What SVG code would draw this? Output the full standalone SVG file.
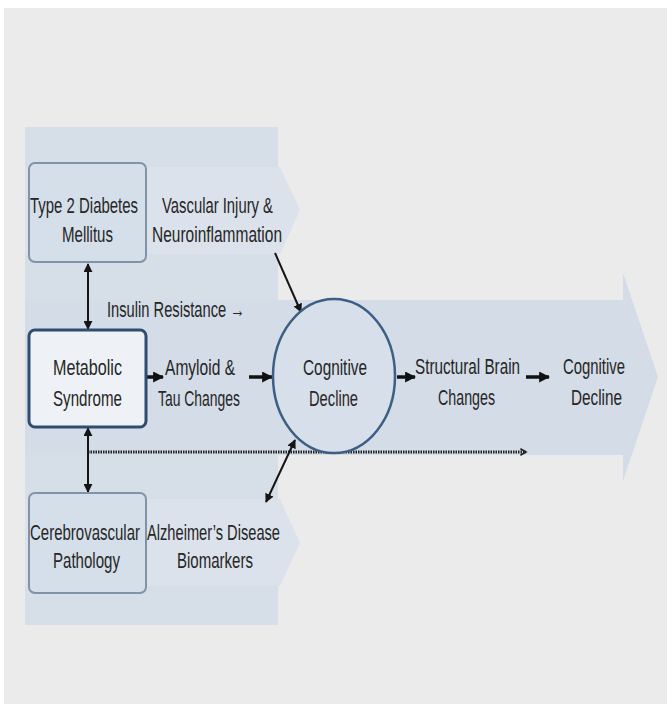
<svg xmlns="http://www.w3.org/2000/svg" width="667" height="704" viewBox="0 0 667 704">
<defs>
<style>
.t{font-family:"Liberation Sans",Arial,sans-serif;font-size:15px;fill:#262626;text-anchor:middle;}
.tl{text-anchor:start;}
.box{fill:#d5dfea;stroke:#8193a9;stroke-width:2;}
.main{fill:#eef2f7;stroke:#2f4d70;stroke-width:3;}
.thin{stroke:#151515;stroke-width:2;fill:none;}
.thick{stroke:#111;stroke-width:3.5;fill:none;}
.dot{stroke:#222;stroke-width:3;stroke-dasharray:1.5 1;fill:none;}
</style>
<marker id="ah" viewBox="0 0 10 10" refX="9" refY="5" markerWidth="9" markerHeight="9" markerUnits="userSpaceOnUse" orient="auto-start-reverse">
<path d="M0,0 L10,5 L0,10 Z" fill="#151515"/>
</marker>
<marker id="ahb" viewBox="0 0 10 10" refX="9" refY="5" markerWidth="11" markerHeight="11" markerUnits="userSpaceOnUse" orient="auto">
<path d="M0,0 L10,5 L0,10 Z" fill="#111"/>
</marker>
<marker id="aho" viewBox="0 0 10 10" refX="8" refY="5" markerWidth="8" markerHeight="8" markerUnits="userSpaceOnUse" orient="auto">
<path d="M1,1 L8,5 L1,9" fill="none" stroke="#222" stroke-width="2"/>
</marker>
</defs>
<rect x="0" y="0" width="667" height="704" fill="#ffffff"/>
<rect x="4" y="8" width="663" height="696" fill="#ebebeb"/>
<g id="background">
<rect x="25" y="127" width="253" height="498" fill="#d6dee8"/>
<polygon points="25,167 280,167 300,210 280,254 25,254" fill="#dbe2eb"/>
<polygon points="25,499 280,499 300,543 280,586 25,586" fill="#dbe2eb"/>
<polygon points="25,300 623,300 623,273 658,377 623,481 623,455 25,455" fill="#d3dce7"/>
</g>
<g id="connectors">
<line class="dot" x1="88" y1="452" x2="526" y2="452" marker-end="url(#aho)"/>
<line class="thin" x1="88" y1="264" x2="88" y2="329" marker-start="url(#ah)" marker-end="url(#ah)"/>
<line class="thin" x1="88" y1="428" x2="88" y2="492" marker-start="url(#ah)" marker-end="url(#ah)"/>
<line class="thin" x1="275" y1="253" x2="301" y2="312" marker-end="url(#ah)"/>
<line class="thin" x1="266" y1="502" x2="295" y2="440" marker-start="url(#ah)" marker-end="url(#ah)"/>
<line class="thick" x1="146" y1="377" x2="163" y2="377" marker-end="url(#ahb)"/>
<line class="thick" x1="249" y1="377" x2="272" y2="377" marker-end="url(#ahb)"/>
<line class="thick" x1="397" y1="377" x2="415" y2="377" marker-end="url(#ahb)"/>
<line class="thick" x1="526" y1="377" x2="549" y2="377" marker-end="url(#ahb)"/>
</g>
<g id="type2">
<rect class="box" x="29" y="163" width="117" height="99" rx="6"/>
<text class="t" transform="translate(84,213) scale(1,1.45)" textLength="108" lengthAdjust="spacingAndGlyphs">Type 2 Diabetes</text>
<text class="t" transform="translate(87.5,242) scale(1,1.45)" textLength="51" lengthAdjust="spacingAndGlyphs">Mellitus</text>
</g>
<g id="vascular">
<text class="t" transform="translate(217.5,213) scale(1,1.45)" textLength="111" lengthAdjust="spacingAndGlyphs">Vascular Injury &amp;</text>
<text class="t" transform="translate(217,242) scale(1,1.45)" textLength="130" lengthAdjust="spacingAndGlyphs">Neuroinflammation</text>
</g>
<g id="insulin">
<text class="t tl" transform="translate(107,317) scale(1,1.45)" textLength="138" lengthAdjust="spacingAndGlyphs">Insulin Resistance →</text>
</g>
<g id="metabolic">
<rect class="main" x="29" y="330" width="117" height="97" rx="6"/>
<text class="t" transform="translate(87.5,375) scale(1,1.45)" textLength="69" lengthAdjust="spacingAndGlyphs">Metabolic</text>
<text class="t" transform="translate(87.5,406) scale(1,1.45)" textLength="69" lengthAdjust="spacingAndGlyphs">Syndrome</text>
</g>
<g id="amyloid">
<text class="t" transform="translate(200,375) scale(1,1.45)" textLength="70" lengthAdjust="spacingAndGlyphs">Amyloid &amp;</text>
<text class="t" transform="translate(199,406) scale(1,1.45)" textLength="82" lengthAdjust="spacingAndGlyphs">Tau Changes</text>
</g>
<g id="cognitive1">
<ellipse cx="334" cy="376" rx="61" ry="77" fill="#d6dfea" stroke="#3d5f85" stroke-width="2.5"/>
<text class="t" transform="translate(335,375) scale(1,1.45)" textLength="64" lengthAdjust="spacingAndGlyphs">Cognitive</text>
<text class="t" transform="translate(333.5,406) scale(1,1.45)" textLength="49" lengthAdjust="spacingAndGlyphs">Decline</text>
</g>
<g id="structural">
<text class="t" transform="translate(467.5,374) scale(1,1.45)" textLength="105" lengthAdjust="spacingAndGlyphs">Structural Brain</text>
<text class="t" transform="translate(466.5,405) scale(1,1.45)" textLength="57" lengthAdjust="spacingAndGlyphs">Changes</text>
</g>
<g id="cognitive2">
<text class="t" transform="translate(594,374) scale(1,1.45)" textLength="62" lengthAdjust="spacingAndGlyphs">Cognitive</text>
<text class="t" transform="translate(596.5,405) scale(1,1.45)" textLength="51" lengthAdjust="spacingAndGlyphs">Decline</text>
</g>
<g id="cerebro">
<rect class="box" x="29" y="493" width="117" height="100" rx="6"/>
<text class="t" transform="translate(85,540) scale(1,1.45)" textLength="110" lengthAdjust="spacingAndGlyphs">Cerebrovascular</text>
<text class="t" transform="translate(86.5,568) scale(1,1.45)" textLength="67" lengthAdjust="spacingAndGlyphs">Pathology</text>
</g>
<g id="alzheimers">
<text class="t" transform="translate(213.5,540) scale(1,1.45)" textLength="133" lengthAdjust="spacingAndGlyphs">Alzheimer’s Disease</text>
<text class="t" transform="translate(215,568) scale(1,1.45)" textLength="76" lengthAdjust="spacingAndGlyphs">Biomarkers</text>
</g>
</svg>
